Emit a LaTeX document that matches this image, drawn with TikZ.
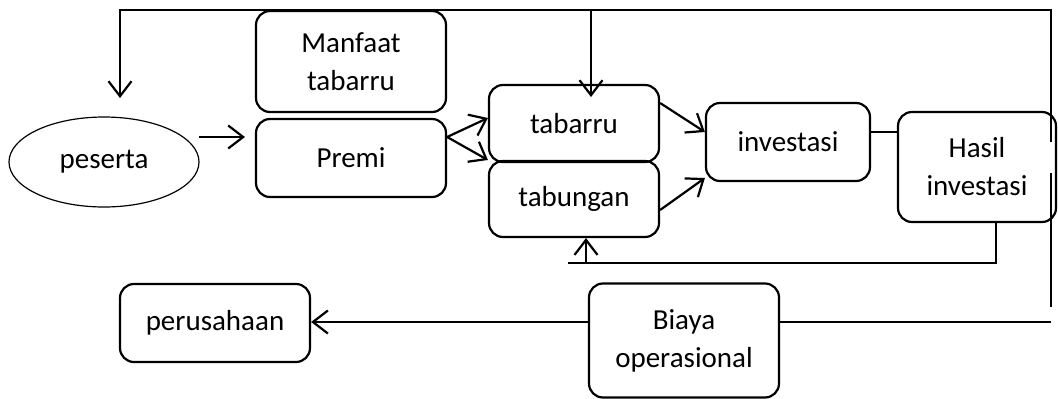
\documentclass[tikz,border=0pt]{standalone}
\usepackage{fontspec}
\setmainfont{Carlito}
\usetikzlibrary{arrows.meta,shapes.geometric}
\begin{document}
\begin{tikzpicture}[x=1pt,y=-1pt,
  every node/.style={font=\fontsize{29}{38}\selectfont, align=center, inner sep=0pt},
  rbox/.style={draw, line width=2.2pt, rounded corners=14pt},
  ln/.style={line width=2.2pt},
  arr/.style={line width=2.2pt, -{Straight Barb[length=15pt,width=23pt,line width=2.2pt]}}]
\useasboundingbox (0,0) rectangle (1058,399);
% nodes
\node[draw, ellipse, line width=1.2pt, minimum width=190pt, minimum height=90pt] (peserta) at (104,162) {peserta};
\node[rbox, minimum width=190pt, minimum height=101pt] (manfaat) at (351,61.5) {Manfaat\\tabarru};
\node[rbox, minimum width=190pt, minimum height=78pt] (premi) at (351,158) {Premi};
\node[rbox, minimum width=170pt, minimum height=77pt] (tabarru) at (574,123.5) {tabarru};
\node[rbox, minimum width=170pt, minimum height=76pt] (tabungan) at (574,199) {tabungan};
\node[rbox, minimum width=164pt, minimum height=78pt] (investasi) at (788,142) {investasi};
\node[rbox, minimum width=158pt, minimum height=110pt] (hasil) at (977,167) {Hasil\\investasi};
\node[rbox, minimum width=190pt, minimum height=78pt] (perusahaan) at (215,323) {perusahaan};
\node[rbox, minimum width=190pt, minimum height=114pt] (biaya) at (684,340.5) {Biaya\\operasional};
% free end coordinates
\coordinate (pesin) at (120,98);
\coordinate (tabin) at (591,97);
\coordinate (top1) at (120,10);
\coordinate (topr) at (1051,10);
\coordinate (rgap1) at (1051,142);
\coordinate (rgap2) at (1051,173);
\coordinate (rend) at (1051,307);
\coordinate (bend) at (1051,322);
\coordinate (pesout) at (199,137);
\coordinate (premin) at (245,137);
\coordinate (fb) at (568,263);
% connectors
\draw[ln] (biaya.east |- bend) -- (bend);
\draw[ln] (rend) -- (rgap2);
\draw[arr] (rgap1) -- (topr) -- (top1) -- (pesin);
\draw[arr] (tabin |- top1) -- (tabin);
\draw[arr] (pesout) -- (premin);
\draw[arr] (premi.east |- 0,137) -- (tabarru.west |- 0,118);
\draw[arr] (premi.east |- 0,137) -- (tabungan.west |- 0,160);
\draw[arr] (tabarru.east |- 0,103) -- (investasi.west |- 0,132);
\draw[arr] (tabungan.east |- 0,210) -- (investasi.west |- 0,178);
\draw[ln] (investasi.east |- 0,132) -- (hasil.west |- 0,132);
\draw[ln] (hasil.south -| 996,0) -- (996,263) -- (fb);
\draw[arr] (586,263) -- (tabungan.south -| 586,0);
\draw[arr] (biaya.west |- bend) -- (perusahaan.east |- bend);
\end{tikzpicture}
\end{document}
